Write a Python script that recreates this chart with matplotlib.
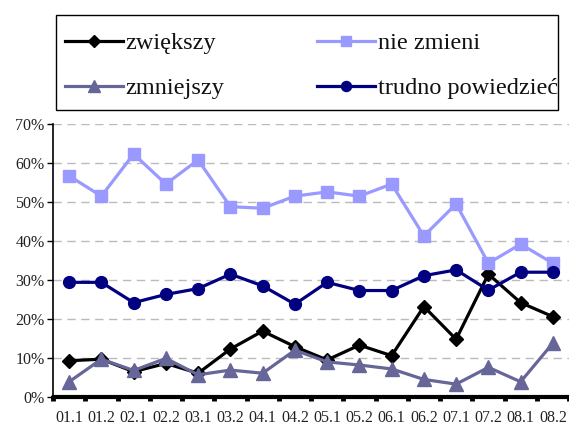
import matplotlib
matplotlib.use("Agg")
import matplotlib.pyplot as plt
from matplotlib.lines import Line2D
from matplotlib.patches import Rectangle
from matplotlib.ticker import FixedLocator, FuncFormatter

categories = ["01.1", "01.2", "02.1", "02.2", "03.1", "03.2", "04.1", "04.2",
              "05.1", "05.2", "06.1", "06.2", "07.1", "07.2", "08.1", "08.2"]
zwiekszy = [9.3, 9.7, 6.5, 8.6, 6.1, 12.3, 16.9, 12.9, 9.5, 13.3, 10.6, 23.2, 14.8, 31.5, 24.2, 20.6]
nie_zmieni = [56.7, 51.5, 62.3, 54.6, 60.8, 48.8, 48.4, 51.5, 52.6, 51.5, 54.6, 41.3, 49.5, 34.3, 39.2, 34.3]
zmniejszy = [3.9, 9.7, 6.8, 9.9, 5.7, 6.9, 6.1, 12.0, 9.0, 8.2, 7.2, 4.5, 3.3, 7.6, 3.9, 13.8]
trudno = [29.4, 29.4, 24.2, 26.3, 27.8, 31.5, 28.5, 23.8, 29.4, 27.3, 27.3, 31.1, 32.6, 27.4, 32.0, 32.0]
yticks = [0, 10, 20, 30, 40, 50, 60, 70]

series = [
    ("zwiększy", zwiekszy, "#000000", "D", 7.5),
    ("nie zmieni", nie_zmieni, "#9999FF", "s", 8),
    ("zmniejszy", zmniejszy, "#666699", "^", 9.5),
    ("trudno powiedzieć", trudno, "#000080", "o", 8.5),
]

plt.rcParams["font.family"] = ["Liberation Serif", "DejaVu Serif"]

fig = plt.figure(figsize=(5.69, 4.25), dpi=100)
ax = fig.add_axes([53 / 569, 1 - 397 / 425, 1 - 53 / 569, (397 - 124) / 425])

x = list(range(len(categories)))
handles = []
order = [1, 3, 0, 2]
for idx in order:
    name, vals, col, mk, ms = series[idx]
    ax.plot(x, vals, color=col, lw=2.3, marker=mk, markersize=ms, zorder=3 + idx,
            clip_on=False)
for name, vals, col, mk, ms in series:
    handles.append(Line2D([], [], color=col, lw=2.3, marker=mk, markersize=ms * 0.85,
                          label=name))

ax.set_xlim(-0.5, len(categories) - 0.5)
ax.set_ylim(0, 70)
ax.set_yticks(yticks)
ax.yaxis.set_major_formatter(FuncFormatter(lambda v, p: f"{int(v)}%"))
ax.yaxis.grid(True, color="#BBBBBB", linestyle=(0, (6, 4)), lw=1.0)
ax.set_axisbelow(True)

ax.xaxis.set_major_locator(FixedLocator([i - 0.5 for i in range(len(categories) + 1)]))
ax.xaxis.set_major_formatter(FuncFormatter(lambda v, p: ""))
ax.xaxis.set_minor_locator(FixedLocator(x))
ax.set_xticklabels(categories, minor=True)
ax.tick_params(axis="x", which="major", direction="out", length=3, width=3.5, color="black")
ax.tick_params(axis="x", which="minor", length=0, labelsize=11.5, pad=9, labelcolor="#222222")
ax.tick_params(axis="y", direction="out", length=4, width=1, labelsize=11.5, pad=2,
               labelcolor="#222222")

for s in ["top", "right"]:
    ax.spines[s].set_visible(False)
ax.spines["left"].set_linewidth(1.2)
ax.spines["bottom"].set_linewidth(3)
ax.spines["bottom"].set_capstyle("round")

# Legend box
W, H = 569, 425
rect = Rectangle((56 / W, 1 - 110 / H), (558 - 56) / W, (110 - 15) / H,
                 transform=fig.transFigure, fill=False, edgecolor="black", lw=1.0)
fig.add_artist(rect)

leg = fig.legend(handles=handles[:1] + handles[2:3] + handles[1:2] + handles[3:],
                 ncol=2, loc="upper left", bbox_to_anchor=(48 / W, 1 - 15 / H),
                 frameon=False, fontsize=17.5, handlelength=2.4, handletextpad=0.1,
                 columnspacing=3.8, labelspacing=0.95, borderpad=0.2)
for t in leg.get_texts():
    t.set_clip_path(rect)
    t.set_color("#111111")

fig.savefig("out.png", dpi=100)
